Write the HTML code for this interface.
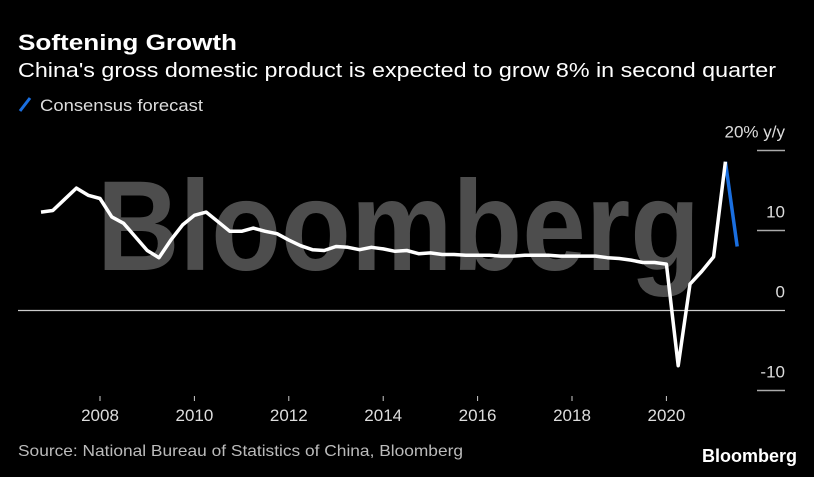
<!DOCTYPE html>
<html><head><meta charset="utf-8"><style>
html,body{margin:0;padding:0;background:#000;}
body{width:814px;height:472px;overflow:hidden;font-family:"Liberation Sans",sans-serif;}
</style></head><body>
<svg width="814" height="472" viewBox="0 0 814 472" xmlns="http://www.w3.org/2000/svg">
<text x="18" y="50" fill="#fff" font-size="22" font-weight="bold" textLength="219" lengthAdjust="spacingAndGlyphs">Softening Growth</text>
<text x="18" y="77" fill="#fff" font-size="20" textLength="758" lengthAdjust="spacingAndGlyphs">China's gross domestic product is expected to grow 8% in second quarter</text>
<line x1="20" y1="111" x2="30" y2="98" stroke="#1a6fe0" stroke-width="3"/>
<text x="40" y="111" fill="#ddd" font-size="17" textLength="163" lengthAdjust="spacingAndGlyphs">Consensus forecast</text>
<text x="97" y="270" fill="#4d4d4d" font-size="128" font-weight="bold" textLength="603" lengthAdjust="spacingAndGlyphs">Bloomberg</text>
<g id="axes"></g>
<g id="series"></g>
<text x="18" y="456" fill="#bbb" font-size="16" textLength="445" lengthAdjust="spacingAndGlyphs">Source: National Bureau of Statistics of China, Bloomberg</text>
<text x="797" y="462" fill="#fff" font-size="18" font-weight="bold" text-anchor="end">Bloomberg</text>
</svg>
<script>
const startYear = 2006, startQuarter = 3;
const gdpValues = [12.3,12.5,13.9,15.3,14.4,14.0,11.7,10.9,9.2,7.5,6.6,8.8,10.7,11.9,12.3,11.1,9.9,9.9,10.3,9.9,9.6,8.8,8.1,7.6,7.5,8.0,7.9,7.6,7.9,7.7,7.4,7.5,7.1,7.2,7.0,7.0,6.9,6.9,6.9,6.8,6.8,6.9,6.9,6.9,6.8,6.8,6.8,6.8,6.6,6.5,6.3,6.0,6.0,5.8,-6.9,3.3,4.9,6.7,18.6];
const forecastValues = [8.0];
const yTicks = [20,10,0,-10];
const yTickLabels = ["20% y/y","10","0","-10"];
const xTicks = [2008,2010,2012,2014,2016,2018,2020];
const NS="http://www.w3.org/2000/svg";
const xs = t => 100 + (t-2008)*47.2;
const ys = v => 310.5 - v*8;
const qx = i => { const q = startQuarter - 1 + i; return xs(startYear + Math.floor(q/4) + ((q%4)+1)/4); };
function mk(tag, attrs, parent){const e=document.createElementNS(NS,tag);for(const k in attrs)e.setAttribute(k,attrs[k]);parent.appendChild(e);return e;}
const axes=document.getElementById('axes'), series=document.getElementById('series');
yTicks.forEach((v,i)=>{
  const g = v===0
    ? mk('line',{x1:18,x2:785,y1:ys(v),y2:ys(v),stroke:'#ccc','stroke-width':1.2},axes)
    : mk('line',{x1:757,x2:785,y1:ys(v),y2:ys(v),stroke:'#aaa','stroke-width':1.5},axes);
  
  
  const t = mk('text',{x:785,y:ys(v)-13,fill:'#ddd','font-size':17,'text-anchor':'end'},axes);
  t.textContent = yTickLabels[i];
  
  
});
xTicks.forEach(y=>{
  const l = mk('line',{x1:xs(y),x2:xs(y),y1:396,y2:401,stroke:'#ccc','stroke-width':1},axes);
  
  
  const t = mk('text',{x:xs(y),y:421,fill:'#ddd','font-size':17,'text-anchor':'middle'},axes);
  t.textContent = y;
  
  
});
const n = gdpValues.length;
const fpts = [[qx(n-1),ys(gdpValues[n-1])]].concat(forecastValues.map((v,i)=>[qx(n+i),ys(v)]));
const fl = mk('polyline',{points:fpts.map(p=>p.join(',')).join(' '),fill:'none',stroke:'#1a6fe0','stroke-width':3.5},series);


const pts = gdpValues.map((v,i)=>qx(i)+','+ys(v)).join(' ');
const gl = mk('polyline',{points:pts,fill:'none',stroke:'#fff','stroke-width':3.5,'stroke-linejoin':'round'},series);


</script>
</body></html>
